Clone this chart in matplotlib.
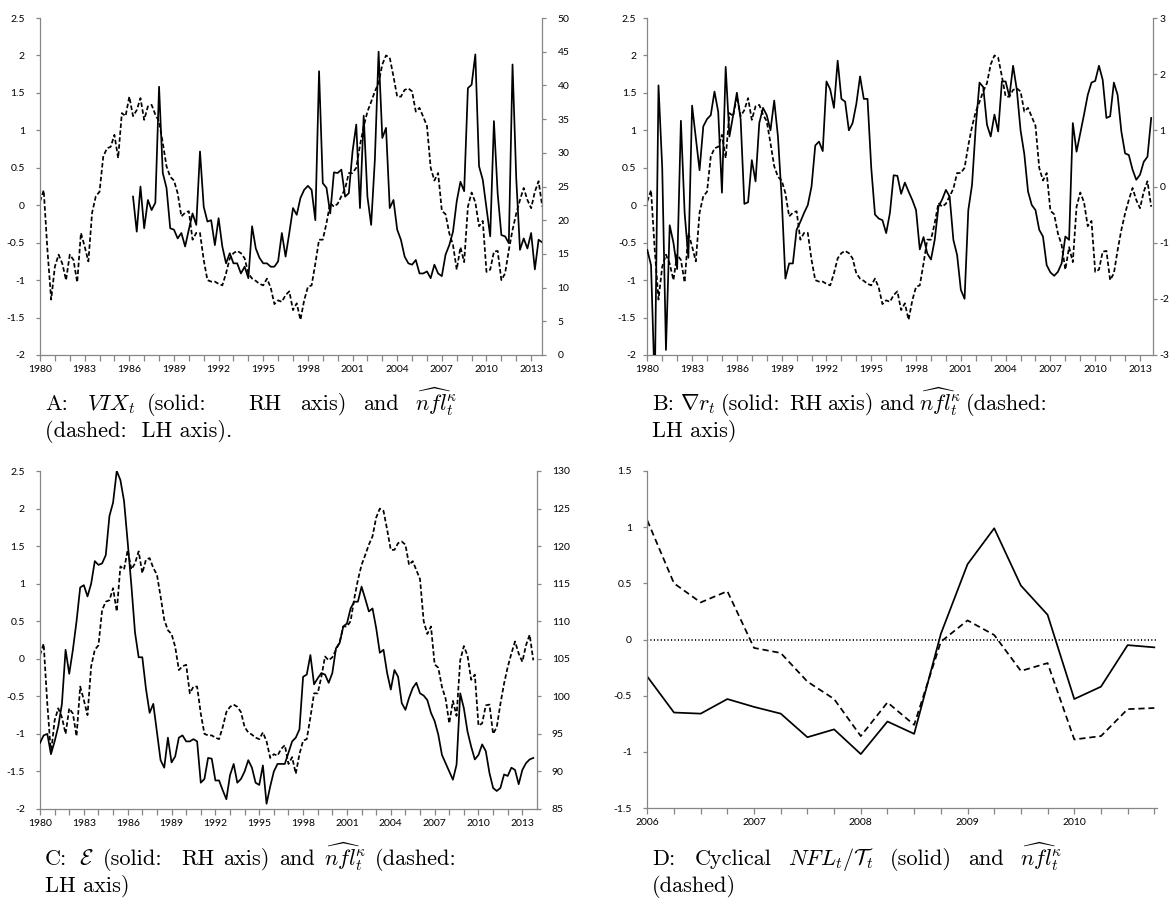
import numpy as np
import matplotlib
matplotlib.use("Agg")
import matplotlib.pyplot as plt
from matplotlib.ticker import FixedLocator, FixedFormatter

# ---------------- data ----------------
# quarterly observations 1980Q1 .. 2013Q4 (index 0..135)
start_year = 1980
n_quarters = 136
year_labels = [1980, 1983, 1986, 1989, 1992, 1995, 1998, 2001, 2004, 2007, 2010, 2013]

nfl_hat = [
    0.05, 0.2, -0.6, -1.26, -0.82, -0.66, -0.78, -1.0, -0.66, -0.73,
    -1.03, -0.37, -0.55, -0.75, -0.1, 0.12, 0.18, 0.65, 0.76, 0.78,
    0.94, 0.63, 1.23, 1.19, 1.45, 1.19, 1.27, 1.43, 1.14, 1.32,
    1.34, 1.21, 1.12, 0.83, 0.52, 0.38, 0.33, 0.16, -0.15, -0.1,
    -0.08, -0.46, -0.37, -0.37, -0.73, -1.0, -1.02, -1.02, -1.05, -1.07,
    -0.91, -0.71, -0.64, -0.61, -0.64, -0.71, -0.91, -0.98, -1.01, -1.05,
    -1.07, -0.98, -1.1, -1.32, -1.27, -1.29, -1.2, -1.15, -1.4, -1.31,
    -1.53, -1.27, -1.09, -1.07, -0.78, -0.46, -0.46, -0.24, 0.03, -0.02,
    0.02, 0.12, 0.22, 0.43, 0.43, 0.5, 0.8, 1.05, 1.25, 1.38,
    1.52, 1.63, 1.88, 2.0, 1.97, 1.72, 1.45, 1.45, 1.54, 1.56,
    1.52, 1.25, 1.3, 1.18, 1.06, 0.5, 0.33, 0.43, -0.075, -0.12,
    -0.375, -0.53, -0.86, -0.56, -0.76, -0.02, 0.17, 0.04, -0.28, -0.21,
    -0.89, -0.86, -0.62, -0.61, -1.0, -0.91, -0.6, -0.33, -0.11, 0.07,
    0.23, 0.07, -0.04, 0.18, 0.32, -0.02,
]

vix = [np.nan] * 25 + [
    23.5, 18.3, 25.0, 18.8, 23.0, 21.5, 22.6, 39.8, 27.0, 24.8,
    18.8, 18.6, 17.3, 18.1, 16.1, 18.6, 21.0, 19.3, 30.2, 22.0,
    19.8, 20.0, 16.3, 20.3, 16.1, 13.6, 15.1, 13.6, 13.6, 12.1,
    13.1, 11.4, 19.1, 15.8, 14.4, 13.6, 13.6, 13.1, 13.1, 13.9,
    18.1, 14.6, 18.1, 21.8, 20.8, 23.3, 24.5, 25.1, 24.5, 20.0,
    42.1, 25.5, 24.8, 21.0, 27.1, 27.0, 27.5, 23.5, 24.0, 30.2,
    34.2, 21.8, 35.5, 23.5, 19.3, 29.0, 45.0, 32.2, 33.7, 21.8,
    23.0, 18.6, 17.1, 14.6, 13.6, 13.4, 14.1, 12.1, 12.1, 12.4,
    11.4, 13.4, 12.1, 11.7, 14.9, 16.3, 18.3, 22.8, 25.7, 24.3,
    39.6, 40.1, 44.6, 28.0, 26.0, 21.8, 17.6, 34.7, 24.0, 17.8,
    17.6, 16.6, 43.1, 26.2, 15.6, 17.3, 15.8, 18.1, 12.7, 17.1,
    16.7,
]

grad_r = [
    -1.13, -1.4, -3.6, 1.8, 0.33, -2.91, -0.69, -1.0, -1.47, 1.17,
    -0.47, -1.27, 1.44, 0.87, 0.29, 1.07, 1.2, 1.27, 1.69, 1.33,
    -0.11, 2.13, 0.89, 1.27, 1.67, 1.2, -0.31, -0.28, 0.47, 0.09,
    1.13, 1.4, 1.27, 1.0, 1.53, 0.89, -0.2, -1.64, -1.37, -1.37,
    -0.77, -0.63, -0.47, -0.33, 0.0, 0.73, 0.8, 0.63, 1.87, 1.73,
    1.4, 2.24, 1.56, 1.51, 1.0, 1.13, 1.47, 1.96, 1.56, 1.56,
    0.33, -0.5, -0.57, -0.6, -0.83, -0.47, 0.2, 0.19, -0.13, 0.07,
    -0.09, -0.24, -0.42, -1.12, -0.9, -1.19, -1.3, -0.95, -0.36, -0.23,
    -0.06, -0.18, -0.95, -1.22, -1.84, -2.0, -0.42, 0.03, 1.07, 1.85,
    1.77, 1.1, 0.89, 1.28, 0.98, 1.87, 1.87, 1.6, 2.15, 1.72,
    1.0, 0.58, -0.09, -0.33, -0.42, -0.77, -0.89, -1.4, -1.53, -1.59,
    -1.52, -1.37, -0.89, -0.95, 1.13, 0.62, 0.95, 1.28, 1.63, 1.85,
    1.88, 2.15, 1.9, 1.22, 1.25, 1.85, 1.63, 0.98, 0.59, 0.56,
    0.3, 0.12, 0.21, 0.44, 0.53, 1.22,
]

exch = [
    93.8, 94.8, 95.0, 92.3, 94.0, 96.0, 99.0, 106.2, 103.0, 106.2,
    110.0, 114.5, 114.8, 113.3, 115.0, 118.0, 117.5, 117.7, 118.8, 124.0,
    125.8, 130.0, 128.8, 126.0, 120.5, 114.8, 108.5, 105.2, 105.2, 101.0,
    97.8, 99.0, 95.2, 91.5, 90.5, 94.5, 91.2, 92.0, 94.5, 94.8,
    94.0, 94.0, 94.3, 94.0, 88.5, 89.0, 91.8, 91.7, 88.8, 88.8,
    87.5, 86.3, 89.5, 91.0, 88.5, 89.0, 90.0, 91.5, 90.5, 88.5,
    88.2, 90.8, 85.7, 88.0, 90.0, 91.0, 91.0, 91.0, 92.5, 94.0,
    94.5, 95.6, 102.6, 102.9, 105.5, 101.6, 102.4, 103.1, 102.9, 101.8,
    103.1, 106.4, 107.1, 109.3, 109.7, 111.7, 112.6, 112.6, 114.6, 113.0,
    111.3, 111.7, 109.1, 105.8, 106.2, 103.1, 100.9, 103.5, 102.6, 99.1,
    98.2, 99.8, 101.1, 101.8, 100.4, 100.1, 99.5, 97.8, 96.7, 94.9,
    92.2, 91.1, 90.0, 88.9, 90.9, 100.4, 98.4, 95.3, 93.3, 91.6,
    92.2, 93.6, 92.7, 89.8, 87.8, 87.4, 87.8, 89.6, 89.4, 90.5,
    90.2, 88.3, 90.2, 91.1, 91.6, 91.8,
]

# panel D: 2006Q1 .. 2010Q4
d_year_labels = ["2006", "2007", "2008", "2009", "2010"]
d_nfl_cyclical = [-0.33, -0.65, -0.66, -0.53, -0.60, -0.66, -0.87, -0.80, -1.02, -0.73,
                  -0.84, 0.05, 0.67, 0.99, 0.48, 0.22, -0.53, -0.42, -0.05, -0.07]
d_nfl_hat = [1.06, 0.50, 0.33, 0.43, -0.075, -0.12, -0.375, -0.53, -0.86, -0.56,
             -0.76, -0.02, 0.17, 0.04, -0.28, -0.21, -0.89, -0.86, -0.62, -0.61]

# ---------------- styling ----------------
W, H = 1175, 909
plt.rcParams['font.family'] = ['Lato', 'DejaVu Sans']
plt.rcParams['mathtext.fontset'] = 'cm'
GRAY = '#868686'
LW = 1.25
TICKFS = 7.5

fig = plt.figure(figsize=(W / 100, H / 100), dpi=100)


def rect(l, r, t, b):
    return [l / W, 1 - b / H, (r - l) / W, (b - t) / H]


def fmt(v):
    return f"{v:g}"


def base_axis(ax, ylim, yticks, pad_left):
    for s in ['top', 'right']:
        ax.spines[s].set_visible(False)
    for s in ['left', 'bottom']:
        ax.spines[s].set_color(GRAY)
        ax.spines[s].set_linewidth(0.9)
    ax.set_ylim(*ylim)
    ax.yaxis.set_major_locator(FixedLocator(yticks))
    ax.yaxis.set_major_formatter(FixedFormatter([fmt(v) for v in yticks]))
    ax.tick_params(axis='y', direction='out', length=3, width=0.9, color=GRAY,
                   labelsize=TICKFS, pad=pad_left)
    ax.tick_params(axis='x', direction='out', length=4, width=0.9, color=GRAY,
                   labelsize=TICKFS, pad=3)
    ax.set_facecolor('none')


def year_axis(ax, right_extra=0.0):
    q = np.arange(n_quarters)
    x = start_year + q / 4.0
    ax.set_xlim(start_year, start_year + (n_quarters - 1 + right_extra) / 4.0)
    yrs = list(range(start_year, start_year + n_quarters // 4))
    ax.xaxis.set_major_locator(FixedLocator(yrs))
    ax.xaxis.set_major_formatter(FixedFormatter(
        [str(y) if y in year_labels else '' for y in yrs]))
    return x


def right_axis(ax, ylim, yticks, pad_right):
    ax2 = ax.twinx()
    for s in ['top', 'left', 'bottom']:
        ax2.spines[s].set_visible(False)
    ax2.spines['right'].set_color(GRAY)
    ax2.spines['right'].set_linewidth(0.9)
    ax2.set_ylim(*ylim)
    ax2.yaxis.set_major_locator(FixedLocator(yticks))
    ax2.yaxis.set_major_formatter(FixedFormatter([fmt(v) for v in yticks]))
    ax2.tick_params(axis='y', direction='out', length=3, width=0.9, color=GRAY,
                    labelsize=TICKFS, pad=pad_right)
    return ax2


lh_ticks = [-2, -1.5, -1, -0.5, 0, 0.5, 1, 1.5, 2, 2.5]
DASH = (2.6, 1.4)

# ---- Panel A ----
axA = fig.add_axes(rect(40, 542.3, 18, 355))
base_axis(axA, (-2, 2.5), lh_ticks, 8)
x = year_axis(axA)
axA.plot(x, nfl_hat, color='black', lw=LW, dashes=DASH)
axA2 = right_axis(axA, (0, 50), list(range(0, 51, 5)), 8)
axA2.plot(x, vix, color='black', lw=LW)

# ---- Panel B ----
axB = fig.add_axes(rect(647.3, 1152.7, 18, 355))
base_axis(axB, (-2, 2.5), lh_ticks, 5)
x = year_axis(axB, 0.4)
axB.plot(x, nfl_hat, color='black', lw=LW, dashes=DASH)
axB2 = right_axis(axB, (-3, 3), [-3, -2, -1, 0, 1, 2, 3], 2)
axB2.plot(x, grad_r, color='black', lw=LW)

# ---- Panel C ----
axC = fig.add_axes(rect(40, 536.7, 471, 809))
base_axis(axC, (-2, 2.5), lh_ticks, 8)
x = year_axis(axC, 0.93)
axC.plot(x, nfl_hat, color='black', lw=LW, dashes=DASH)
axC2 = right_axis(axC, (85, 130), list(range(85, 131, 5)), 8)
axC2.plot(x, exch, color='black', lw=LW)

# ---- Panel D ----
axD = fig.add_axes(rect(647.3, 1157, 471, 808))
d_ticks = [-1.5, -1, -0.5, 0, 0.5, 1, 1.5]
base_axis(axD, (-1.5, 1.5), d_ticks, 8)
xd = np.arange(len(d_nfl_cyclical))
axD.set_xlim(0, len(xd) - 1 + 0.1)
axD.xaxis.set_major_locator(FixedLocator(list(xd)))
axD.xaxis.set_major_formatter(FixedFormatter(
    [d_year_labels[i // 4] if i % 4 == 0 else '' for i in xd]))
axD.axhline(0, color='black', lw=1.3, linestyle=(0, (0.6, 1.3)))
axD.plot(xd, d_nfl_hat, color='black', lw=LW, dashes=(3.6, 2.2))
axD.plot(xd, d_nfl_cyclical, color='black', lw=LW)

# ---------------- captions (justified lines) ----------------
CAPFS = 16
NFL = r"$\widehat{nfl}_t^{\kappa}$"
renderer = fig.canvas.get_renderer()


def justified(items, weights, x0, x1, y):
    texts = [fig.text(0, 1 - y / H, t, fontsize=CAPFS, va='baseline', ha='left',
                      family='cmr10') for t in items]
    widths = [t.get_window_extent(renderer).width for t in texts]
    unit = ((x1 - x0) - sum(widths)) / sum(weights)
    xp = x0
    for t, w, g in zip(texts, widths, list(weights) + [0]):
        t.set_x(xp / W)
        xp += w + g * unit


def plain(txt, x0, y):
    fig.text(x0 / W, 1 - y / H, txt, fontsize=CAPFS, va='baseline', ha='left',
             family='cmr10')


L1_TOP, L2_TOP = 410, 437
L1_BOT, L2_BOT = 865, 892
XL = 45
XR = 652

justified(["A:", r"$VIX_t$", "(solid:", "RH", "axis)", "and", NFL],
          [1.1, 0.7, 2.4, 1.1, 1.0, 0.9], XL, 457, L1_TOP)
plain("(dashed:  LH axis).", XL, L2_TOP)
justified(["B:", r"$\nabla r_t$", "(solid:", "RH", "axis)", "and", NFL, "(dashed:"],
          [1.3, 1, 2, 1, 1, 1, 1], XR, 1048, L1_TOP)
plain("LH axis)", XR, L2_TOP)
justified(["C:", r"$\mathcal{E}$", "(solid:", "RH", "axis)", "and", NFL, "(dashed:"],
          [1.3, 1, 2, 1, 1, 1, 1], XL, 457, L1_BOT)
plain("LH axis)", XL, L2_BOT)
justified(["D:", "Cyclical", r"$NFL_t/\mathcal{T}_t$", "(solid)", "and", NFL],
          [1.2, 1, 1, 1, 1], XR, 1062, L1_BOT)
plain("(dashed)", XR, L2_BOT)

fig.savefig("out.png", dpi=100)
